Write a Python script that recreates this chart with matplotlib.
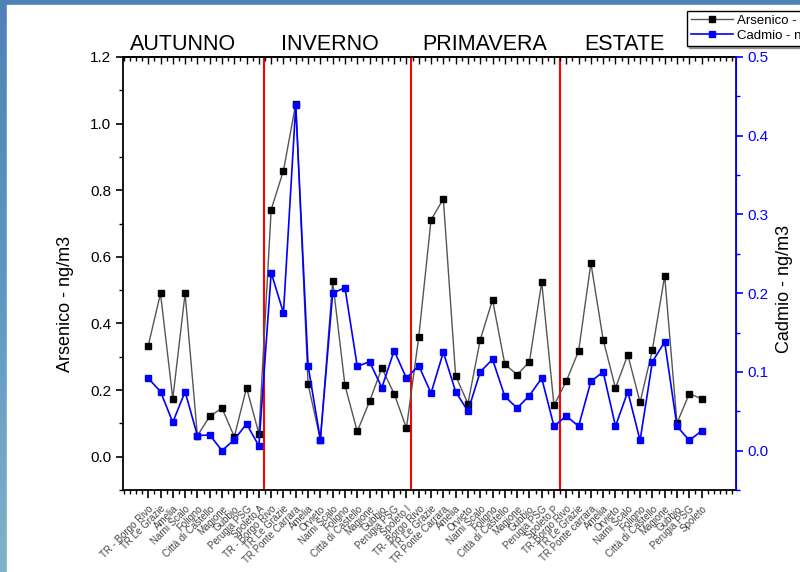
import numpy as np
import matplotlib.pyplot as plt
from matplotlib.patches import Rectangle
from matplotlib.colors import LinearSegmentedColormap
from matplotlib.ticker import MultipleLocator

plt.rcParams['font.family'] = ['Liberation Sans', 'DejaVu Sans']

# stazioni per stagione
autunno = ["TR - Borgo Rivo", "TR Le Grazie", "Amelia", "Narni Scalo", "Foligno",
           "Città di Castello", "Magione", "Gubbio", "Perugia PSG", "Spoleto A"]
inverno = ["TR - Borgo Rivo", "TR Le Grazie", "TR Ponte Carrara", "Amelia", "Orvieto",
           "Narni Scalo", "Foligno", "Città di Castello", "Magione", "Gubbio",
           "Perugia PSG", "Spoleto I"]
primavera = ["TR- Borgo Rivo", "TR Le Grazie", "TR Ponte Carrara", "Amelia", "Orvieto",
             "Narni Scalo", "Foligno", "Città di Castello", "Magione", "Gubbio",
             "Perugia PSG", "Spoleto P"]
estate = ["TR-Borgo Rivo", "TR Le Grazie", "TR Ponte carrara", "Amelia", "Orvieto",
          "Narni Scalo", "Foligno", "Città di Castello", "Magione", "Gubbio",
          "Perugia PSG", "Spoleto"]
stazioni = autunno + inverno + primavera + estate

# ng/m3
arsenico = [0.333, 0.49, 0.174, 0.49, 0.063, 0.121, 0.146, 0.06, 0.207, 0.069,
            0.742, 0.859, 1.06, 0.218, 0.051, 0.527, 0.214, 0.076, 0.166, 0.266, 0.189, 0.086,
            0.359, 0.711, 0.774, 0.243, 0.159, 0.351, 0.471, 0.278, 0.246, 0.285, 0.524, 0.154,
            0.227, 0.317, 0.581, 0.351, 0.206, 0.306, 0.163, 0.321, 0.543, 0.101, 0.189, 0.174]
cadmio = [0.092, 0.075, 0.036, 0.075, 0.019, 0.02, 0.0, 0.014, 0.034, 0.006,
          0.226, 0.175, 0.439, 0.108, 0.014, 0.2, 0.207, 0.107, 0.113, 0.08, 0.127, 0.092,
          0.108, 0.073, 0.125, 0.075, 0.05, 0.1, 0.116, 0.069, 0.054, 0.07, 0.092, 0.031,
          0.044, 0.031, 0.088, 0.1, 0.031, 0.075, 0.013, 0.113, 0.138, 0.031, 0.013, 0.025]

stagioni = ["AUTUNNO", "INVERNO", "PRIMAVERA", "ESTATE"]
stagioni_x = [2.8, 14.8, 27.4, 38.7]
separatori = [9.43, 21.35, 33.47]

x = np.arange(len(stazioni))

fig = plt.figure(figsize=(8, 5.72), dpi=100)

# sfondo della slide
bg = fig.add_axes([0, 0, 1, 1], zorder=-10)
grad = np.linspace(0, 1, 256).reshape(-1, 1)
slide = LinearSegmentedColormap.from_list("slide", ["#4f82b8", "#5d97c2", "#80b2c9"])
bg.imshow(grad, cmap=slide, aspect='auto', extent=[0, 1, 0, 1], origin='upper')
bg.add_patch(Rectangle((7 / 800, 0), 1, 1 - 5 / 572, color='white'))
bg.set_xlim(0, 1)
bg.set_ylim(0, 1)
bg.axis('off')

ax = fig.add_axes([123 / 800, 1 - 490 / 572, (736 - 123) / 800, (490 - 57) / 572])
ax2 = ax.twinx()

l1, = ax.plot(x, arsenico, color='#555555', lw=1, marker='s', ms=4.5,
              mfc='black', mec='black', label='Arsenico - ng/m3')
l2, = ax2.plot(x, cadmio, color='#0000ff', lw=1.2, marker='s', ms=4.5,
               mfc='#0000ff', mec='#0000ff', label='Cadmio - ng/m3')

for s in separatori:
    ax.axvline(s, color='red', lw=1.5, zorder=0)

ax.set_xlim(-2.05, 47.8)
ax.set_ylim(-0.1, 1.2)
ax2.set_ylim(-0.05, 0.5)

ax.set_xticks(x)
ax.set_xticklabels(stazioni, rotation=45, ha='right', rotation_mode='anchor',
                   fontsize=7, color='#444444')
ax.xaxis.set_minor_locator(MultipleLocator(0.5))
ax.tick_params(axis='x', which='major', length=6, width=1.2, pad=4)
ax.tick_params(axis='x', which='minor', length=3, width=1)

ax.yaxis.set_major_locator(MultipleLocator(0.2))
ax.yaxis.set_minor_locator(MultipleLocator(0.1))
ax.tick_params(axis='y', which='major', length=5, width=1.2, labelsize=11)
ax.tick_params(axis='y', which='minor', length=3, width=1)
ax.set_ylabel("Arsenico - ng/m3", fontsize=13)
ax.yaxis.set_label_coords(-0.08, 0.43)

ax2.yaxis.set_major_locator(MultipleLocator(0.1))
ax2.yaxis.set_minor_locator(MultipleLocator(0.05))
ax2.tick_params(axis='y', which='major', length=5, width=1.2, labelsize=11,
                colors='#0000ff')
ax2.tick_params(axis='y', which='minor', length=3, width=1, colors='#0000ff')
ax2.spines['right'].set_color('#0000ff')
ax2.spines['right'].set_linewidth(1.3)
ax2.set_ylabel("Cadmio - ng/m3", fontsize=13)
ax2.yaxis.set_label_coords(1.066, 0.465)

for sp in ['left', 'bottom', 'top']:
    ax.spines[sp].set_linewidth(1.3)
ax2.spines['top'].set_visible(False)
ax2.spines['left'].set_visible(False)
ax2.spines['bottom'].set_visible(False)

# tacche sul bordo superiore verso l'interno
top = ax.secondary_xaxis('top')
top.set_xticks(x)
top.set_xticklabels([])
top.xaxis.set_minor_locator(MultipleLocator(0.5))
top.tick_params(axis='x', which='major', direction='in', length=5, width=1)
top.tick_params(axis='x', which='minor', direction='in', length=3, width=1)
top.spines['top'].set_linewidth(1.3)

for nome, sx in zip(stagioni, stagioni_x):
    ax.text(sx, 1.205, nome, fontsize=15.5, ha='center', va='bottom')

fig.legend(handles=[l1, l2], loc='upper left', bbox_to_anchor=(680 / 800, 1 - 4 / 572),
           fontsize=9.5, frameon=True, fancybox=False, shadow=True, edgecolor='black',
           framealpha=1, borderpad=0.3, labelspacing=0.2, handlelength=3.2,
           handletextpad=0.3)

fig.savefig("out.png", dpi=100)
